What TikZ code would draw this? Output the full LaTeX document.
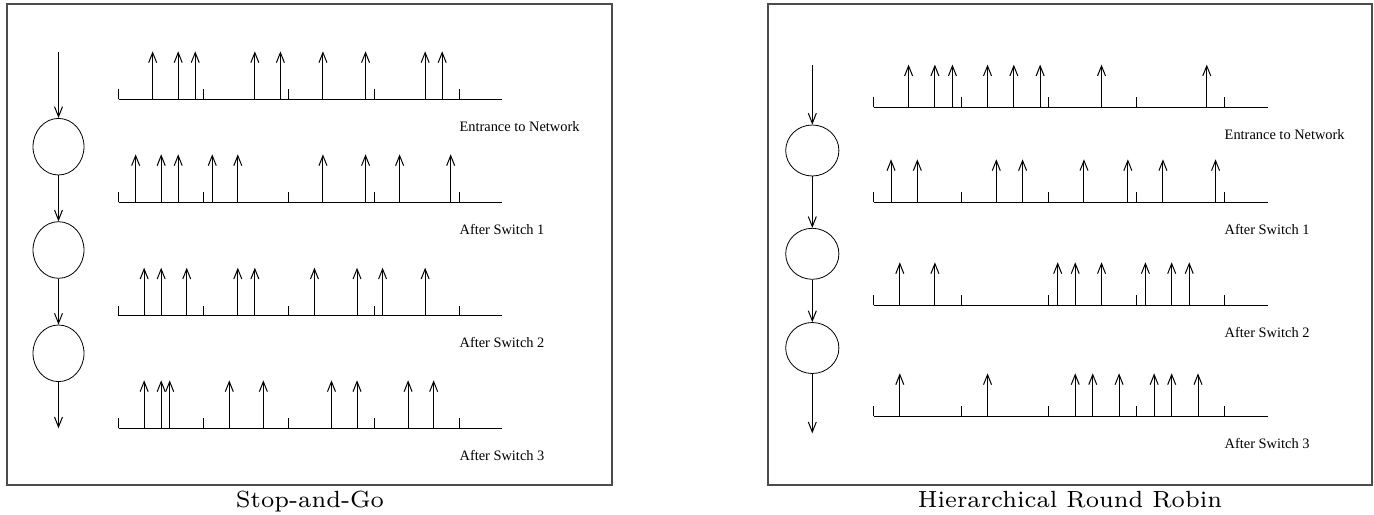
\documentclass[tikz,border=0pt]{standalone}
\usepackage{fontspec}
\usetikzlibrary{arrows.meta,shapes.geometric}

\newfontfamily\labelfont{Liberation Serif}

\tikzset{
    frame/.style = {draw = black!70, line width = 0.75pt},
    axis/.style = {line width = 0.5pt},
    pulse/.style = {line width = 0.5pt, -{Straight Barb[length = 5pt, width = 4pt]}},
    flow/.style = {line width = 0.5pt, -{Straight Barb[length = 5pt, width = 4pt]}},
    switchL/.style = {draw, ellipse, inner sep = 0, minimum width = 25.5pt, minimum height = 28.3pt},
    switchR/.style = {draw, ellipse, inner sep = 0, minimum width = 26.6pt, minimum height = 25.5pt},
    rowlabel/.style = {anchor = west, inner sep = 0, font = \labelfont\fontsize{7.2}{8}\selectfont},
    caption/.style = {anchor = base, inner sep = 0, font = \fontsize{7}{8}\selectfont, scale = 1.67}
}

% name, start x, base y, frame length, pulse height, pulses (in frames), label
\newcommand{\pulsetrain}[7]{%
    \draw[axis] (#2, #3) -- ++(4.5*#4, 0);
    \foreach \k in {0,...,4}
        \draw[axis] (#2+\k*#4, #3) -- ++(0, -10);
    \foreach \p in {#6}
        \draw[pulse] (#2+\p*#4, #3) -- ++(0, -#5);
    \node (#1) [rowlabel] at (#2+4*#4, #3+27) {#7};
}

\begin{document}
\begin{tikzpicture}[x = 0.5pt, y = -0.5pt]
    \useasboundingbox (0, 0) rectangle (1374, 514);

    % Stop-and-Go
    \draw[frame] (7, 4) rectangle (612, 485);
    \node (capL) [caption] at (310, 507.3) {Stop-and-Go};

    \coordinate (inL) at (58.5, 52);
    \node (swL1) [switchL] at (58.5, 146.7) {};
    \node (swL2) [switchL] at (58.5, 250) {};
    \node (swL3) [switchL] at (58.5, 353.3) {};
    \coordinate (outL) at (58.5, 428.3);

    \draw[flow]
        (inL) -- (swL1);
    \draw[flow]
        (swL1) -- (swL2);
    \draw[flow]
        (swL2) -- (swL3);
    \draw[flow]
        (swL3) -- (outL);

    \pulsetrain{entL}{118.6}{99.3}{85.15}{48}{0.4, 0.7, 0.9, 1.6, 1.9, 2.4, 2.9, 3.6, 3.8}{Entrance to Network}
    \pulsetrain{afterL1}{118.6}{202.3}{85.15}{48}{0.2, 0.5, 0.7, 1.1, 1.4, 2.4, 2.9, 3.3, 3.9}{After Switch 1}
    \pulsetrain{afterL2}{118.6}{315.7}{85.15}{48}{0.3, 0.5, 0.8, 1.4, 1.6, 2.3, 2.8, 3.1, 3.6}{After Switch 2}
    \pulsetrain{afterL3}{118.6}{428.3}{85.15}{48}{0.3, 0.5, 0.6, 1.3, 1.7, 2.5, 2.8, 3.4, 3.7}{After Switch 3}

    % Hierarchical Round Robin
    \draw[frame] (768, 4) rectangle (1372, 485);
    \node (capR) [caption] at (1070, 507.3) {Hierarchical Round Robin};

    \coordinate (inR) at (812.3, 65);
    \node (swR1) [switchR] at (812.3, 150.5) {};
    \node (swR2) [switchR] at (812.3, 253.8) {};
    \node (swR3) [switchR] at (812.3, 348) {};
    \coordinate (outR) at (812.3, 433.3);

    \draw[flow]
        (inR) -- (swR1);
    \draw[flow]
        (swR1) -- (swR2);
    \draw[flow]
        (swR2) -- (swR3);
    \draw[flow]
        (swR3) -- (outR);

    \pulsetrain{entR}{873.5}{107.3}{87.7}{42.7}{0.4, 0.7, 0.9, 1.3, 1.6, 1.9, 2.6, 3.8}{Entrance to Network}
    \pulsetrain{afterR1}{873.5}{202}{87.7}{42.7}{0.2, 0.5, 1.4, 1.7, 2.4, 2.9, 3.3, 3.9}{After Switch 1}
    \pulsetrain{afterR2}{873.5}{305}{87.7}{42.7}{0.3, 0.7, 2.1, 2.3, 2.6, 3.1, 3.4, 3.6}{After Switch 2}
    \pulsetrain{afterR3}{873.5}{416}{87.7}{42.7}{0.3, 1.3, 2.3, 2.5, 2.8, 3.2, 3.4, 3.7}{After Switch 3}
\end{tikzpicture}
\end{document}
